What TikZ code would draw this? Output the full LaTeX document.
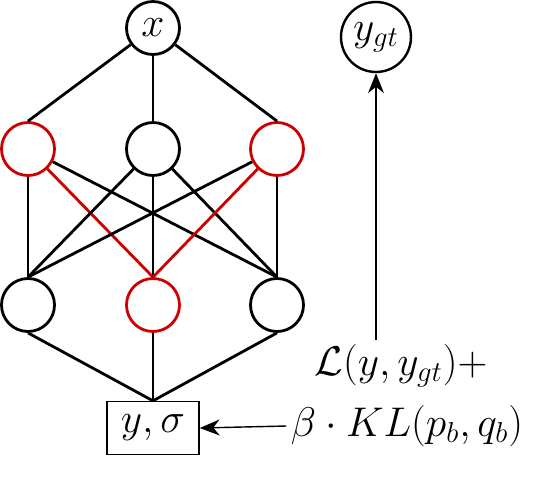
\documentclass[tikz,border=0pt]{standalone}
\usepackage{amsmath,amssymb}
\usepackage{tikz}
\usetikzlibrary{arrows.meta}
\definecolor{dropred}{RGB}{204,0,0}

\begin{document}
\begin{tikzpicture}[
  x=0.5pt, y=-0.5pt,
  unit/.style={circle, draw, line width=1.4pt, inner sep=0pt, minimum size=26.5pt, font=\fontsize{21}{25}\selectfont},
  dropunit/.style={unit, draw=dropred},
  conn/.style={line width=1.4pt},
  dropconn/.style={conn, draw=dropred},
  outbox/.style={draw, line width=0.7pt, minimum width=46pt, minimum height=26.5pt, inner sep=2pt, font=\fontsize{22}{26}\selectfont},
  target/.style={circle, draw, line width=1.2pt, inner sep=1pt, minimum size=35pt, font=\fontsize{22}{26}\selectfont},
  lossterm/.style={inner sep=2pt, font=\fontsize{22}{26}\selectfont},
  flow/.style={line width=0.7pt, -{Stealth[length=10pt, width=8pt]}}
]
\useasboundingbox (0,0) rectangle (538,479);

% Input
\node[unit] (x) at (153,28) {$x$};

% First hidden layer
\node[dropunit] (h1) at (28,149) {};
\node[unit]     (h2) at (153,149) {};
\node[dropunit] (h3) at (277,149) {};

% Second hidden layer
\node[unit]     (g1) at (28,305) {};
\node[dropunit] (g2) at (153,305) {};
\node[unit]     (g3) at (277,305) {};

% Output
\node[outbox] (out) at (153,428) {$y,\sigma$};

\draw[conn] (x) -- (h1.north);
\draw[conn] (x) -- (h2.north);
\draw[conn] (x) -- (h3.north);

\draw[conn] (h1) -- (g1.north);
\draw[dropconn] (h1) -- (g2.north);
\draw[conn] (h1) -- (g3.north);
\draw[conn] (h2) -- (g1.north);
\draw[conn] (h2) -- (g2.north);
\draw[conn] (h2) -- (g3.north);
\draw[conn] (h3) -- (g1.north);
\draw[dropconn] (h3) -- (g2.north);
\draw[conn] (h3) -- (g3.north);

\draw[conn] (g1.south) -- (out.north);
\draw[conn] (g2.south) -- (out.north);
\draw[conn] (g3.south) -- (out.north);

% Loss
\node[target] (ygt) at (376,37) {$y_{gt}$};
\node[lossterm] (loss) at (401,366) {$\mathcal{L}(y,y_{gt})+$};
\node[lossterm] (kl) at (407,426) {$\beta\cdot KL(p_b,q_b)$};
\draw[flow] (loss.north -| ygt) -- (ygt);
\draw[flow] (kl.west) -- (out.east);
\end{tikzpicture}
\end{document}
